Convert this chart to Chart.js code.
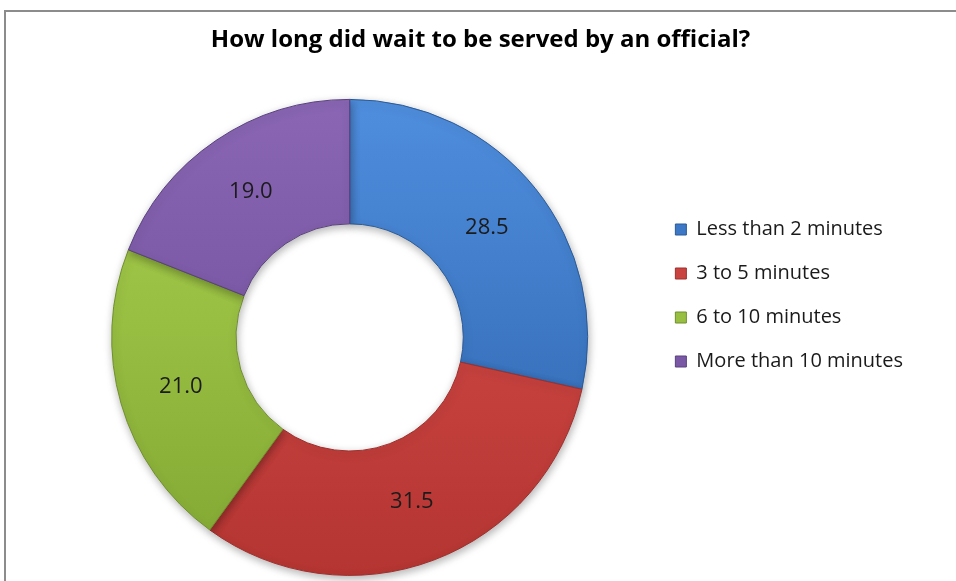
<!DOCTYPE html>
<html>
<head>
<meta charset="utf-8">
<script src="https://cdn.jsdelivr.net/npm/chart.js@4/dist/chart.umd.min.js"></script>
<style>
  html, body { margin: 0; padding: 0; background: #ffffff; overflow: hidden; }
  #wrap { position: relative; width: 956px; height: 581px; }
  #frame { position: absolute; left: 4px; top: 10px; width: 1000px; height: 1000px;
           border: 2px solid #8c8c8c; box-sizing: border-box; pointer-events: none; }
  #c { position: absolute; left: 0; top: 0; }
</style>
</head>
<body>
<div id="wrap">
  <div id="frame"></div>
  <canvas id="c" width="956" height="581"></canvas>
</div>
<script>
// Survey: waiting time before being served (percent of respondents)
const chartTitle = 'How long did wait to be served by an official?';
const categories = ['Less than 2 minutes', '3 to 5 minutes', '6 to 10 minutes', 'More than 10 minutes'];
const shares = [28.5, 31.5, 21.0, 19.0];

// Slice colours: lighter at the top of the ring, darker at the bottom
const sliceTop    = ['#4f8ede', '#dc514d', '#abd24f', '#8a66b4'];
const sliceBottom = ['#2b61a9', '#b43532', '#82a733', '#674893'];
const sliceSolid  = ['#3d78c6', '#c94441', '#98bf41', '#7a58a6'];
const sliceEdge   = ['#2a5a98', '#9e2f2c', '#6f8f2c', '#5a417f'];

const OUTER_R = 238;
const INNER_R = 116;

function sliceFill(context) {
  const i = context.dataIndex;
  const area = context.chart.chartArea;
  if (!area) return sliceSolid[i];
  const cy = (area.top + area.bottom) / 2;
  const g = context.chart.ctx.createLinearGradient(0, cy - OUTER_R, 0, cy + OUTER_R);
  g.addColorStop(0, sliceTop[i]);
  g.addColorStop(1, sliceBottom[i]);
  return g;
}

// Soft drop shadow under the ring
const ringShadow = {
  id: 'ringShadow',
  beforeDatasetDraw(chart) {
    const ctx = chart.ctx;
    ctx.save();
    ctx.shadowColor = 'rgba(0,0,0,0.30)';
    ctx.shadowBlur = 8;
    ctx.shadowOffsetX = 1;
    ctx.shadowOffsetY = 3;
  },
  afterDatasetDraw(chart) {
    chart.ctx.restore();
  }
};

// Value printed in the middle of each slice
const sliceValueLabels = {
  id: 'sliceValueLabels',
  afterDatasetsDraw(chart) {
    const ctx = chart.ctx;
    const meta = chart.getDatasetMeta(0);
    ctx.save();
    ctx.font = '22px "Open Sans"';
    ctx.fillStyle = '#1b1b1b';
    ctx.textAlign = 'center';
    ctx.textBaseline = 'middle';
    meta.data.forEach((arc, i) => {
      const p = arc.tooltipPosition();
      ctx.fillText(shares[i].toFixed(1), p.x, p.y);
    });
    ctx.restore();
  }
};

const baseLabels = Chart.overrides.doughnut.plugins.legend.labels.generateLabels;

new Chart(document.getElementById('c'), {
  type: 'doughnut',
  data: {
    labels: categories,
    datasets: [{
      data: shares,
      backgroundColor: sliceFill,
      borderColor: sliceEdge,
      borderWidth: 1
    }]
  },
  options: {
    responsive: false,
    devicePixelRatio: 1,
    animation: false,
    radius: OUTER_R,
    cutout: INNER_R,
    layout: { padding: { left: 48, right: 43, top: 0, bottom: 0 } },
    plugins: {
      title: {
        display: true,
        text: chartTitle,
        color: '#000000',
        font: { family: '"Open Sans"', size: 24, weight: 'bold', lineHeight: 1.2 },
        padding: { top: 26, bottom: 39 }
      },
      legend: {
        position: 'right',
        align: 'start',
        title: { display: true, text: '', font: { size: 12, lineHeight: '13px' }, padding: { top: 182.5, bottom: 0 } },
        labels: {
          color: '#1a1a1a',
          font: { family: '"Open Sans"', size: 20 },
          boxWidth: 11,
          boxHeight: 11,
          padding: 24,
          generateLabels(chart) {
            return baseLabels(chart).map((item, i) => Object.assign(item, {
              fillStyle: sliceSolid[i],
              strokeStyle: sliceEdge[i],
              lineWidth: 1
            }));
          }
        }
      },
      tooltip: { enabled: false }
    }
  },
  plugins: [ringShadow, sliceValueLabels]
});
</script>
</body>
</html>
